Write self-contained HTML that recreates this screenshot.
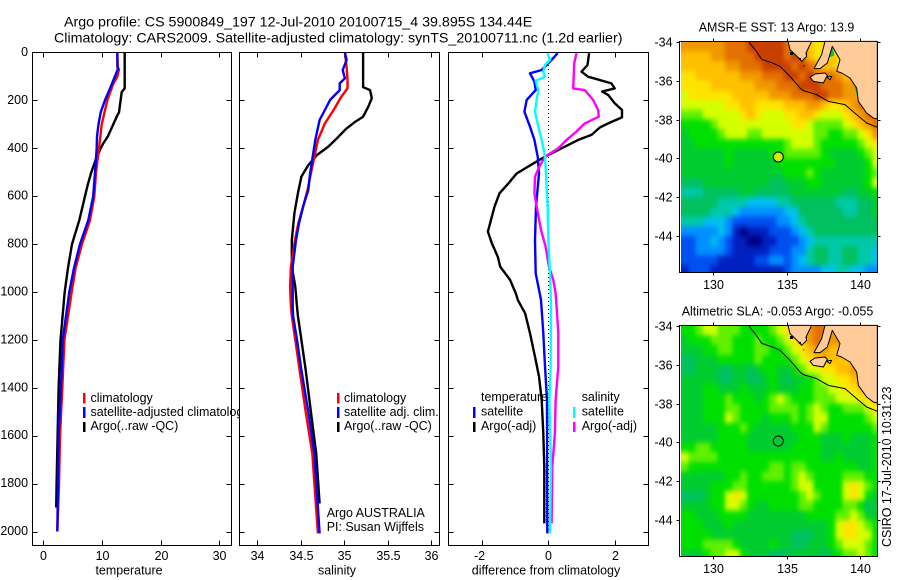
<!DOCTYPE html>
<html lang="en">
<head>
<meta charset="utf-8">
<title>Argo profile 5900849_197</title>
<style>
html,body{margin:0;padding:0;background:#fff;}
svg{display:block;font-family:"Liberation Sans",sans-serif;font-size:12.45px;fill:#000;}
</style>
</head>
<body>
<svg id="chart" xmlns="http://www.w3.org/2000/svg" width="900" height="580" viewBox="0 0 900 580">
<defs>
<clipPath id="legend-clip"><rect x="32" y="380" width="207.5" height="60"/></clipPath>
<clipPath id="map1-clip"><rect x="681" y="42" width="196" height="230"/></clipPath>
<clipPath id="map2-clip"><rect x="681" y="326" width="196" height="230"/></clipPath>
<filter id="cell-smooth" filterUnits="userSpaceOnUse" x="640" y="0" width="260" height="580" color-interpolation-filters="sRGB"><feGaussianBlur stdDeviation="2 2.6"/></filter>
</defs>
<rect x="0" y="0" width="900" height="580" fill="#fff"/>
<text x="64" y="26.5" font-size="14.25">Argo profile: CS 5900849_197 12-Jul-2010 20100715_4 39.895S 134.44E</text>
<text x="54" y="42.5" font-size="14.25">Climatology: CARS2009. Satellite-adjusted climatology: synTS_20100711.nc (1.2d earlier)</text>
<g id="panels"></g>
<g id="map1"><g clip-path="url(#map1-clip)"><g id="map1-cells" filter="url(#cell-smooth)"></g></g></g>
<g id="map2"><g clip-path="url(#map2-clip)"><g id="map2-cells" filter="url(#cell-smooth)"></g></g></g>

<g transform="translate(770,38) scale(0.33333)" fill="#ffcc99" stroke="#000" stroke-width="3" stroke-linejoin="round">
<path d="M187 27L193 52L178 58Z" fill="#00c040" stroke="none"/>
<path d="M256 145L266 178" fill="none" stroke="#00d040" stroke-width="6"/>
<polygon points="54,10 60,35 88,62 95,70 110,55 108,45 125,10"/>
<polygon points="165,10 155,50 132,92 150,92 172,75 187,25 210,65 200,100 215,105 240,120 260,150 265,190 290,225 310,240 322,243 322,10"/>
<polygon points="120,118 135,108 165,105 172,112 160,135 130,130"/>
<polygon points="170,117 185,115 180,125"/>
<polyline fill="none" points="-65,10 -40,41 -25,64 10,76 30,85 60,115 90,150 100,158 140,170 175,190 225,200 260,230 290,255 322,268"/>
<path fill="#000" stroke="none" d="M60 42h9v9h-9zM86 60h7v5h-7zM100 82h3v3h-3zM108 45h3v6h-3z"/>
</g>
<g transform="translate(770,322) scale(0.33333)" fill="#ffcc99" stroke="#000" stroke-width="3" stroke-linejoin="round">
<polygon points="54,10 60,35 88,62 95,70 110,55 108,45 125,10"/>
<polygon points="165,10 155,50 132,92 150,92 172,75 187,25 210,65 200,100 215,105 240,120 260,150 265,190 290,225 310,240 322,243 322,10"/>
<polygon points="120,118 135,108 165,105 172,112 160,135 130,130"/>
<polygon points="170,117 185,115 180,125"/>
<polyline fill="none" points="-65,10 -40,41 -25,64 10,76 30,85 60,115 90,150 100,158 140,170 175,190 225,200 260,230 290,255 322,268"/>
<path fill="#000" stroke="none" d="M60 42h9v9h-9zM86 60h7v5h-7zM100 82h3v3h-3zM108 45h3v6h-3z"/>
</g>

<text x="776.5" y="31.5" text-anchor="middle">AMSR-E SST: 13 Argo: 13.9</text>
<text x="777.5" y="315.5" text-anchor="middle">Altimetric SLA: -0.053 Argo: -0.055</text>
<circle cx="778.3" cy="157" r="5" fill="#c8f000" stroke="#000" stroke-width="1"/>
<circle cx="778.3" cy="441" r="5" fill="none" stroke="#000" stroke-width="1"/>
<text transform="translate(891,547) rotate(-90)">CSIRO 17-Jul-2010 10:31:23</text>

<g>
<rect x="83" y="393" width="2.5" height="10.5" fill="#f00"/>
<rect x="83" y="407" width="2.5" height="11" fill="#00f"/>
<rect x="83" y="422" width="2.5" height="10" fill="#000"/>
<text x="90.5" y="402">climatology</text>
<text x="90.5" y="416" clip-path="url(#legend-clip)">satellite-adjusted climatology</text>
<text x="90.5" y="430">Argo(..raw -QC)</text>
</g>
<g>
<rect x="337" y="393" width="2.5" height="10.5" fill="#f00"/>
<rect x="337" y="407" width="2.5" height="11" fill="#00f"/>
<rect x="337" y="422" width="2.5" height="10" fill="#000"/>
<text x="344" y="402">climatology</text>
<text x="344" y="416">satellite adj. clim.</text>
<text x="344" y="430">Argo(..raw -QC)</text>
<text x="326.7" y="517">Argo AUSTRALIA</text>
<text x="326.7" y="531">PI: Susan Wijffels</text>
</g>
<g>
<text x="481" y="401">temperature</text>
<text x="481" y="415.5">satellite</text>
<text x="481" y="430">Argo(-adj)</text>
<rect x="473" y="407" width="2.5" height="11" fill="#00f"/>
<rect x="473" y="422" width="2.5" height="10" fill="#000"/>
<text x="581.7" y="401">salinity</text>
<text x="581.7" y="415.5">satellite</text>
<text x="581.7" y="430">Argo(-adj)</text>
<rect x="573" y="407" width="2.5" height="11" fill="#0ff"/>
<rect x="573" y="422" width="2.5" height="10" fill="#f0f"/>
</g>
</svg>

<script>
// ---------- tick labels ----------
var depthTicks = [0,200,400,600,800,1000,1200,1400,1600,1800,2000];
var tempTicks = [0,10,20,30];
var salTicks = [34,34.5,35,35.5,36];
var diffTicks = [-2,0,2];
var lonTicks = [130,135,140];
var latTicks = [34,36,38,40,42,44];

// ---------- temperature profiles ----------
var tempClimDepth = [0,60,70,100,130,200,300,400,500,600,700,800,900,1000,1200,1400,1600,1800,2000];
var tempClimValue = [12.6,12.6,12.9,12.6,11.93,10.9,9.95,9.49,8.98,8.69,7.96,6.6,5.5,4.84,3.6,3.24,2.85,2.67,2.39];
var tempSatDepth = [0,70,100,150,200,250,300,350,400,500,600,700,800,900,1000,1200,1400,1600,1800,2000];
var tempSatValue = [12.6,12.7,12.2,11.36,10.5,9.78,9.4,9.15,9.1,8.8,8.5,7.67,6.25,5.23,4.43,3.3,3.0,2.6,2.5,2.39];
var tempArgoDepth = [0,150,165,250,260,300,350,380,400,450,500,550,600,700,800,900,1000,1200,1400,1600,1800,1900];
var tempArgoValue = [13.87,13.87,13.35,12.9,12.65,11.93,11.0,10.2,9.78,8.9,8.18,7.6,7.1,6.13,4.89,4.2,3.64,2.93,2.6,2.44,2.27,2.2];

// ---------- salinity profiles ----------
var salClimDepth = [0,59,115,150,184,240,296,365,435,505,574,644,713,783,894,978,1061,1100,1200,1326,1500,1674,2008];
var salClimValue = [35.01,35.03,35.04,35.04,34.97,34.88,34.78,34.70,34.66,34.62,34.58,34.53,34.475,34.437,34.39,34.38,34.39,34.40,34.44,34.49,34.56,34.636,34.70];
var salSatDepth = [0,31,73,108,129,157,198,240,282,365,435,505,574,644,713,783,894,978,1061,1100,1200,1326,1500,1674,2008];
var salSatValue = [35.01,35.03,34.985,35.01,34.95,34.95,34.84,34.78,34.72,34.67,34.64,34.61,34.59,34.53,34.483,34.448,34.41,34.41,34.41,34.415,34.46,34.51,34.59,34.66,34.72];
var salArgoDepth = [0,145,157,191,226,268,289,317,358,393,428,470,518,588,671,783,894,978,1061,1100,1200,1326,1500,1674,1883];
var salArgoValue = [35.22,35.22,35.30,35.32,35.28,35.22,35.13,35.03,34.92,34.82,34.69,34.59,34.51,34.47,34.43,34.40,34.40,34.44,34.46,34.47,34.51,34.56,34.62,34.68,34.72];

// ---------- difference profiles ----------
var diffTempSatDepth = [3,31,73,87,122,157,198,247,310,365,435,505,644,783,922,1033,1172,1311,1451,2008];
var diffTempSatValue = [0.28,0.1,-0.2,-0.55,-0.42,-0.38,-0.65,-0.72,-0.55,-0.42,-0.32,-0.28,-0.37,-0.4,-0.38,-0.22,-0.15,-0.1,-0.04,-0.03];
var diffTempArgoDepth = [3,52,80,101,129,150,163,177,212,240,271,296,313,344,365,400,435,463,505,546,588,644,748,797,853,894,950,1006,1033,1089,1172,1270,1353,1451,1590,1729,1966];
var diffTempArgoValue = [1.23,1.18,1.0,1.2,1.9,2.0,1.62,1.8,2.0,2.22,2.22,1.8,1.55,1.3,0.9,0.4,-0.1,-0.45,-0.95,-1.2,-1.47,-1.62,-1.82,-1.7,-1.52,-1.45,-1.15,-0.98,-0.92,-0.7,-0.55,-0.4,-0.28,-0.2,-0.15,-0.12,-0.12];
var diffSalSatDepth = [3,31,52,80,101,118,157,198,247,310,365,435,505,644,783,922,1061,1311,1451,1729,2008];
var diffSalSatValue = [-0.02,0.05,-0.1,-0.15,-0.1,-0.38,-0.3,-0.35,-0.4,-0.3,-0.2,-0.1,-0.07,-0.02,0,0.05,0.08,0.07,0.03,0.08,0.05];
var diffSalArgoDepth = [3,45,150,157,198,240,268,296,330,365,400,435,477,518,588,644,741,811,894,950,1006,1061,1172,1311,1451,1590,1729,1966];
var diffSalArgoValue = [0.85,0.78,0.75,1.1,1.35,1.5,1.52,1.1,0.85,0.55,0.3,-0.1,-0.27,-0.4,-0.42,-0.35,-0.22,-0.08,0.02,0.15,0.22,0.25,0.3,0.3,0.22,0.2,0.12,0.1];

// ---------- map grids (colour levels, 0.5 degree cells, north to south) ----------
var sstGrid = [
[13,13,13,13,13,13,14,14,14,15,15,15,15,15,14,14,14,12,11,11,12,12,12,12,12,12,12],
[12,12,12,12,13,13,14,14,14,14,15,15,15,15,14,15,14,12,11,11,12,11,11,12,12,12,12],
[12,12,12,12,12,12,13,13,14,14,14,15,15,15,15,14,15,14,13,12,12,11,11,11,12,12,12],
[11,11,12,12,12,12,12,12,13,13,13,14,14,14,15,15,14,15,14,14,14,13,12,12,11,12,12],
[11,11,11,11,12,12,12,12,12,12,13,13,13,14,14,14,15,15,15,14,14,14,13,13,12,10,12],
[10,11,11,11,11,11,11,12,12,12,12,12,13,13,13,14,14,14,15,15,14,14,13,13,12,10,12],
[10,10,10,10,10,10,11,11,12,12,11,11,11,11,12,12,12,13,13,12,11,11,12,13,14,12,12],
[9,9,9,10,10,10,10,10,11,12,11,10,10,10,11,11,12,12,11,10,10,10,11,12,13,14,14],
[8,8,8,8,9,10,10,10,10,10,10,10,10,10,10,11,11,10,9,9,9,9,10,11,12,13,14],
[7,8,8,8,8,9,10,10,10,9,9,10,10,10,10,10,10,10,9,9,8,8,9,9,10,11,13],
[7,7,8,8,8,8,8,8,8,8,8,8,8,8,9,10,10,10,9,8,8,8,8,8,9,10,11],
[7,7,7,7,7,7,8,7,7,7,7,7,8,8,9,9,9,9,9,8,7,7,7,7,8,9,10],
[7,7,7,7,7,7,8,7,7,7,7,7,7,8,8,8,8,8,8,8,8,7,7,7,7,8,10],
[7,7,7,7,7,7,7,7,7,7,7,7,7,7,8,8,8,9,8,7,7,7,7,7,7,8,9],
[6,6,6,7,7,7,7,7,7,7,7,7,6,6,7,7,7,8,8,7,7,7,7,7,7,8,10],
[5,5,5,6,6,6,6,6,7,7,6,6,6,6,6,7,7,7,7,7,7,7,6,6,7,7,8],
[6,6,6,6,6,5,5,5,5,4,4,4,4,5,5,6,6,6,6,6,6,5,5,5,6,6,7],
[6,6,6,6,5,5,5,4,3,3,3,3,3,3,4,4,6,6,6,6,6,6,5,5,6,6,7],
[5,5,5,4,4,4,3,2,2,2,2,2,2,3,3,4,5,6,6,6,6,6,6,6,6,6,6],
[3,3,3,3,3,4,3,1,0,1,1,1,2,2,2,3,4,5,6,6,6,6,6,6,6,6,6],
[2,2,3,3,4,3,2,1,1,0,0,1,1,2,2,2,3,4,5,5,5,5,5,5,5,5,5],
[2,2,3,3,3,3,2,1,1,1,1,1,2,2,2,3,3,5,6,6,5,5,6,6,5,5,4],
[2,2,2,2,2,1,1,1,1,1,2,2,3,3,2,3,4,5,6,6,5,5,6,6,5,5,4],
[1,2,2,2,1,1,1,1,1,1,1,1,1,1,2,3,3,3,3,4,4,5,5,4,4,3,3]
];
var slaGrid = [
[8,8,9,10,10,9,9,9,8,8,8,8,9,10,11,12,12,13,14,14,13,12,12,12,12,12,12],
[7,8,8,8,9,9,9,8,8,8,9,8,8,9,10,11,12,13,14,14,13,13,12,12,12,12,12],
[7,7,7,8,8,9,9,8,8,8,9,9,8,8,9,10,11,12,13,13,12,12,12,12,12,12,12],
[6,6,7,7,7,8,8,8,8,8,9,8,8,8,8,9,10,11,12,12,12,12,12,12,12,12,12],
[6,6,7,7,7,6,6,7,7,6,7,8,8,7,7,8,9,10,10,11,11,12,12,13,13,12,12],
[7,7,7,7,7,6,6,7,7,6,6,7,8,7,6,7,7,8,9,10,10,11,11,12,13,12,12],
[7,7,7,8,8,7,7,7,8,7,7,7,8,7,7,7,8,8,9,9,10,10,11,11,12,12,12],
[7,7,7,8,8,8,9,8,8,8,7,8,9,10,9,8,8,8,9,9,9,10,10,10,11,11,12],
[7,7,7,8,8,8,9,9,8,8,8,8,9,9,9,9,8,9,10,9,8,8,9,9,9,10,11],
[7,7,7,8,8,8,10,9,8,8,8,7,8,8,8,9,8,9,10,10,8,8,8,8,8,9,10],
[7,7,7,7,7,8,8,8,9,8,7,7,7,7,7,8,8,8,10,9,8,8,8,8,8,8,9],
[7,7,7,7,7,8,8,8,8,7,7,7,7,7,7,7,8,8,8,7,7,7,8,7,7,7,8],
[8,8,9,9,8,8,8,8,8,7,7,7,7,7,7,8,8,8,8,7,7,7,7,7,7,7,8],
[10,9,9,9,9,8,8,8,8,8,8,8,8,8,8,8,8,8,8,7,7,8,7,7,7,7,8],
[9,8,8,8,8,8,8,8,8,8,8,8,9,9,8,9,9,8,8,8,8,8,8,8,7,7,8],
[7,7,7,7,7,7,8,8,9,8,8,9,9,9,8,9,10,9,8,8,8,8,9,9,9,8,8],
[7,7,7,7,8,8,8,9,9,8,8,8,8,8,8,9,10,10,8,8,8,8,10,11,10,9,8],
[6,6,6,7,8,8,10,11,10,8,8,8,8,8,8,8,9,10,9,8,8,8,10,11,10,8,7],
[7,7,7,7,8,8,10,10,9,8,7,7,8,8,8,8,9,9,8,8,8,8,9,9,8,6,7],
[8,8,7,7,7,8,8,8,8,7,7,7,7,7,7,7,7,8,8,8,8,9,9,10,9,7,7],
[8,8,8,7,7,7,8,7,7,7,7,7,7,7,7,7,7,7,7,7,8,10,11,11,10,9,8],
[8,8,8,8,7,7,7,7,7,7,7,7,7,7,7,6,6,6,7,7,8,10,11,11,10,10,8],
[8,8,8,9,9,9,9,8,7,7,7,7,8,7,7,6,6,7,7,7,8,9,10,10,10,9,8],
[7,7,7,8,9,9,10,10,8,7,7,7,6,6,6,7,7,7,7,6,7,8,9,9,10,9,8]
];
var levelColors = ['#00007f','#0020c0','#0050f0','#0090ff','#00c0f0','#00c8a8','#00c060','#00cc30','#00e000','#60f000','#d4ff00','#ffe400','#ffc000','#f09800','#e47000','#c84000'];

// ---------- axis functions ----------
var NS = 'http://www.w3.org/2000/svg';
function depthY(d){ return 52.5 + d * 0.2395; }
function tempX(v){ return 43.3 + v * 5.87; }
function salX(v){ return 257 + (v - 34) * 87; }
function diffX(v){ return 548.3 + v * 33.2; }
function lonX(v){ return 713.3 + (v - 130) * 14.7; }
function latY(v, top){ return top + (v - 34) * 19.43; }

function make(tag, parent, attrs){
  var el = document.createElementNS(NS, tag);
  for (var k in attrs) el.setAttribute(k, attrs[k]);
  parent.appendChild(el);
  return el;
}

var panelsGroup = document.getElementById('panels');

function drawProfile(name, color, xFn, depths, values){
  var pts = depths.map(function(d, i){ return xFn(values[i]).toFixed(1) + ',' + depthY(d).toFixed(1); }).join(' ');
  var line = make('polyline', panelsGroup, {points: pts, fill: 'none', stroke: color, 'stroke-width': 2.4, 'stroke-linejoin': 'round'});
  
  
}

function drawAxes(prefix, left, right, xFn, xTicks, title, titleX, showDepthLabels){
  var top = 52.5, bottom = 545.5;
  var frame = make('rect', panelsGroup, {x: left, y: top, width: right - left, height: bottom - top, fill: 'none', stroke: '#000', 'stroke-width': 1});
  
  
  depthTicks.forEach(function(d){
    var y = Math.round(depthY(d)) + 0.5;
    if (d > 0) {
      var tl = make('line', panelsGroup, {x1: left, x2: left + 5, y1: y, y2: y, stroke: '#000'});
      
      
      var tr = make('line', panelsGroup, {x1: right - 5, x2: right, y1: y, y2: y, stroke: '#000'});
      
      
    }
    if (showDepthLabels) {
      var lab = make('text', panelsGroup, {x: 28, y: depthY(d) + 3.5, 'text-anchor': 'end'});
      
      
      lab.textContent = d;
    }
  });
  xTicks.forEach(function(v){
    var x = Math.round(xFn(v)) + 0.5;
    var tt = make('line', panelsGroup, {x1: x, x2: x, y1: top, y2: top + 5, stroke: '#000'});
    
    
    var tb = make('line', panelsGroup, {x1: x, x2: x, y1: bottom - 5, y2: bottom, stroke: '#000'});
    
    
    var lab = make('text', panelsGroup, {x: v < 0 ? x - 3 : x, y: 560, 'text-anchor': 'middle'});
    
    
    lab.textContent = v;
  });
  var t = make('text', panelsGroup, {x: titleX, y: 574.5, 'text-anchor': 'middle'});
  
  
  t.textContent = title;
}

// panel 1: temperature
drawAxes('temperature', 32.5, 231.5, tempX, tempTicks, 'temperature', 129, true);
drawProfile('temperature-argo-line', '#000', tempX, tempArgoDepth, tempArgoValue);
drawProfile('temperature-climatology-line', '#f00', tempX, tempClimDepth, tempClimValue);
drawProfile('temperature-satellite-line', '#00f', tempX, tempSatDepth, tempSatValue);

// panel 2: salinity
drawAxes('salinity', 239.5, 439.5, salX, salTicks, 'salinity', 337, false);
drawProfile('salinity-argo-line', '#000', salX, salArgoDepth, salArgoValue);
drawProfile('salinity-climatology-line', '#f00', salX, salClimDepth, salClimValue);
drawProfile('salinity-satellite-line', '#00f', salX, salSatDepth, salSatValue);

// panel 3: differences
drawAxes('difference', 448.5, 648.5, diffX, diffTicks, 'difference from climatology', 546, false);
var zeroLine = make('line', panelsGroup, {x1: 548.5, x2: 548.5, y1: 53, y2: 533, stroke: '#000', 'stroke-dasharray': '1 3'});


drawProfile('difference-temperature-argo-line', '#000', diffX, diffTempArgoDepth, diffTempArgoValue);
drawProfile('difference-temperature-satellite-line', '#00f', diffX, diffTempSatDepth, diffTempSatValue);
drawProfile('difference-salinity-argo-line', '#f0f', diffX, diffSalArgoDepth, diffSalArgoValue);
drawProfile('difference-salinity-satellite-line', '#0ff', diffX, diffSalSatDepth, diffSalSatValue);

// maps
function drawMap(prefix, groupId, cellsId, grid, top, bottom, latTop){
  var group = document.getElementById(groupId);
  var cells = document.getElementById(cellsId);
  var lonStart = 127.8, latStart = 34;
  grid.forEach(function(row, r){
    row.forEach(function(level, c){
      var x0 = lonX(lonStart + c * 0.5), x1 = lonX(lonStart + (c + 1) * 0.5);
      var y0 = latY(latStart + r * 0.5, latTop), y1 = latY(latStart + (r + 1) * 0.5, latTop);
      // edge cells run past the clip so the smoothing never fades at the frame
      if (c === 0) x0 -= 14;
      if (c === row.length - 1) x1 += 14;
      if (r === 0) y0 -= 14;
      if (r === grid.length - 1) y1 += 14;
      var cell = make('rect', cells, {x: x0.toFixed(2), y: y0.toFixed(2), width: (x1 - x0 + 0.3).toFixed(2), height: (y1 - y0 + 0.3).toFixed(2), fill: levelColors[level], 'shape-rendering': 'crispEdges'});
      
      
    });
  });
  var left = 679.5, right = 877.5;
  var frame = make('rect', group, {x: left, y: top, width: right - left, height: bottom - top, fill: 'none', stroke: '#000'});
  
  
  lonTicks.forEach(function(v){
    var x = Math.round(lonX(v)) + 0.5;
    var tt = make('line', group, {x1: x, x2: x, y1: top - 3, y2: top, stroke: '#000'});
    
    
    var tb = make('line', group, {x1: x, x2: x, y1: bottom, y2: bottom + 3, stroke: '#000'});
    
    
    var lab = make('text', group, {x: x, y: bottom + 16.5, 'text-anchor': 'middle'});
    
    
    lab.textContent = v;
  });
  latTicks.forEach(function(v){
    var y = Math.round(latY(v, latTop)) + 0.5;
    var tl = make('line', group, {x1: left - 3, x2: left, y1: y, y2: y, stroke: '#000'});
    
    
    var tr = make('line', group, {x1: right, x2: right + 3, y1: y, y2: y, stroke: '#000'});
    
    
    var lab = make('text', group, {x: 672.5, y: y + 4, 'text-anchor': 'end'});
    
    
    lab.textContent = '-' + v;
  });
}
drawMap('sst', 'map1', 'map1-cells', sstGrid, 41.5, 272.5, 41.8);
drawMap('sla', 'map2', 'map2-cells', slaGrid, 325.5, 556.5, 325.8);
</script>
</body>
</html>
